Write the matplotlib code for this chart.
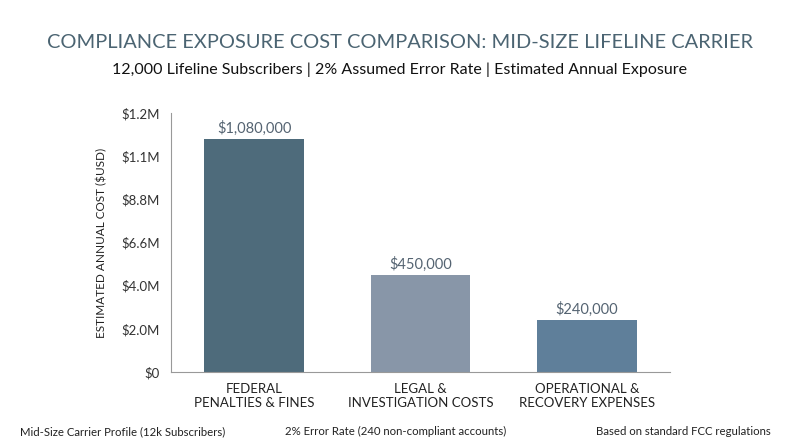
import matplotlib.pyplot as plt
import numpy as np

# Chart data
categories = ["FEDERAL\nPENALTIES & FINES", "LEGAL &\nINVESTIGATION COSTS", "OPERATIONAL &\nRECOVERY EXPENSES"]
costs = [1080000, 450000, 240000]
value_labels = ["$1,080,000", "$450,000", "$240,000"]
bar_colors = ["#4e6b7b", "#8896a8", "#5f7f9a"]
y_ticks = [0, 200000, 400000, 600000, 800000, 1000000, 1200000]
y_tick_labels = ["$0", "$2.0M", "$4.0M", "$6.6M", "$8.8M", "$1.1M", "$1.2M"]
footer = ["Mid-Size Carrier Profile (12k Subscribers)",
          "2% Error Rate (240 non-compliant accounts)",
          "Based on standard FCC regulations"]

plt.rcParams['font.family'] = ['Lato', 'DejaVu Sans']

fig = plt.figure(figsize=(8, 4.47), dpi=100)
ax = fig.add_axes([0.214, 0.168, 0.6235, 0.579])

x = np.arange(len(categories))
ax.bar(x, costs, width=0.6, color=bar_colors)

for xi, val, lab in zip(x, costs, value_labels):
    ax.text(xi, val + 15000, lab, ha='center', va='bottom', fontsize=10.5, color="#556472")

ax.set_xlim(-0.5, 2.5)
ax.set_ylim(0, 1200000)
ax.set_xticks(x)
ax.set_xticklabels(categories, fontsize=9.5, color="#222222")
ax.set_yticks(y_ticks)
ax.set_yticklabels(y_tick_labels, fontsize=9.5, color="#333333")
ax.tick_params(axis='both', length=0, pad=8)
ax.set_ylabel("ESTIMATED ANNUAL COST ($USD)", fontsize=8.5, color="#222222", labelpad=10)

for side in ['top', 'right']:
    ax.spines[side].set_visible(False)
for side in ['left', 'bottom']:
    ax.spines[side].set_color("#999999")
    ax.spines[side].set_linewidth(0.8)

fig.text(0.5, 0.905, "COMPLIANCE EXPOSURE COST COMPARISON: MID-SIZE LIFELINE CARRIER",
         ha='center', va='center', fontsize=14.4, color="#4b6472")
fig.text(0.5, 0.843, "12,000 Lifeline Subscribers | 2% Assumed Error Rate | Estimated Annual Exposure",
         ha='center', va='center', fontsize=11.5, color="#111111")

fig.text(0.025, 0.034, footer[0], ha='left', va='center', fontsize=8.2, color="#222222")
fig.text(0.495, 0.034, footer[1], ha='center', va='center', fontsize=8.2, color="#222222")
fig.text(0.963, 0.034, footer[2], ha='right', va='center', fontsize=8.2, color="#222222")

plt.savefig("out.png", dpi=100)
plt.close()
